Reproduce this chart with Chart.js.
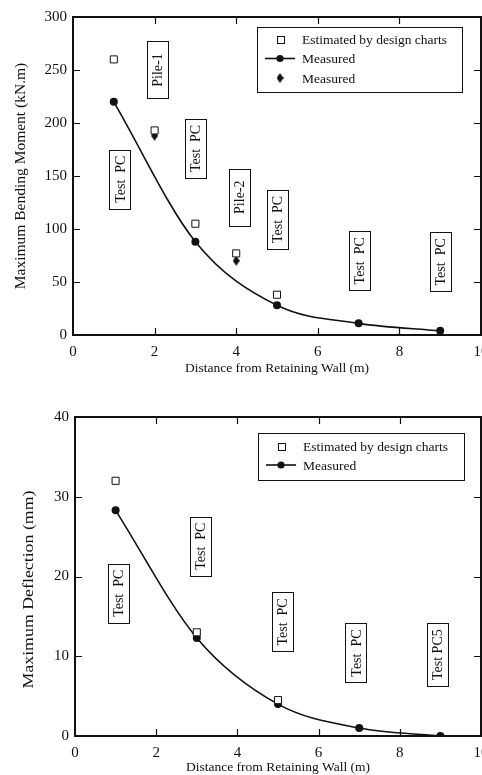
<!DOCTYPE html>
<html><head><meta charset="utf-8">
<script src="https://cdn.jsdelivr.net/npm/chart.js@4.4.1/dist/chart.umd.min.js"></script>
<style>
html,body{margin:0;padding:0;background:#fff;overflow:hidden;width:482px;height:775px}
#w1{position:absolute;left:0;top:0;width:482px;height:380px}
#w2{position:absolute;left:0;top:385px;width:482px;height:390px}
</style></head><body>
<div id="w1"><canvas id="c1"></canvas></div>
<div id="w2"><canvas id="c2"></canvas></div>
<script>
// ---- data ----
const xTicks = [0, 2, 4, 6, 8, 10];
const momentTicks = [0, 50, 100, 150, 200, 250, 300];
const deflTicks = [0, 10, 20, 30, 40];

const momentEstX = [1, 2, 3, 4, 5];
const momentEstY = [260, 193, 105, 77, 38];
const momentMeasX = [1, 3, 5, 7, 9];
const momentMeasY = [220, 88, 28, 11, 4];
const momentPileX = [2, 4];
const momentPileY = [188, 70];
const momentLabels = ['Pile-1', 'Test  PC', 'Test  PC', 'Pile-2', 'Test  PC', 'Test  PC', 'Test  PC'];
const momentLabelX = [2.06, 1.15, 3.0, 4.07, 5.02, 7.03, 9.0];
const momentLabelY = [250, 147, 176, 130, 109, 70, 69];

const deflEstX = [1, 3, 5];
const deflEstY = [32, 13, 4.5];
const deflMeasX = [1, 3, 5, 7, 9];
const deflMeasY = [28.3, 12.3, 4, 1, 0];
const deflLabels = ['Test  PC', 'Test  PC', 'Test  PC', 'Test  PC', 'Test PC5'];
const deflLabelX = [1.06, 3.08, 5.1, 6.92, 8.92];
const deflLabelY = [17.9, 23.8, 14.3, 10.4, 10.2];

const xTitle = 'Distance from Retaining Wall (m)';
const momentTitle = 'Maximum Bending Moment (kN.m)';
const deflTitle = 'Maximum Deflection (mm)';
const legendEst = 'Estimated by design charts';
const legendMeas = 'Measured';

// ---- helpers ----
const SERIF = "'Liberation Serif','Times New Roman',serif";
const INK = '#111';
function pts(xs, ys) { return xs.map((x, i) => ({x: x, y: ys[i]})); }
function diamondImg() {
  const c = document.createElement('canvas'); c.width = 7; c.height = 10;
  const g = c.getContext('2d'); g.fillStyle = INK; g.beginPath();
  g.moveTo(3.5, 0); g.lineTo(7, 5); g.lineTo(3.5, 10); g.lineTo(0, 5); g.closePath(); g.fill();
  return c;
}
const DIAMOND = diamondImg();

function decorPlugin(cfg) {
  return {
    id: 'decor',
    afterDatasetsDraw(chart) {
      const ctx = chart.ctx, a = chart.chartArea;
      const xs = chart.scales.x, ys = chart.scales.y;
      ctx.save();
      ctx.strokeStyle = INK; ctx.fillStyle = INK;
      // frame
      ctx.lineWidth = 2;
      ctx.strokeRect(a.left, a.top, a.right - a.left, a.bottom - a.top);
      // inward ticks
      ctx.lineWidth = 1.2;
      ctx.beginPath();
      cfg.xt.forEach(v => {
        if (v <= xs.min || v >= xs.max) return;
        const p = Math.round(xs.getPixelForValue(v)) + 0.5;
        ctx.moveTo(p, a.bottom); ctx.lineTo(p, a.bottom - 7);
        ctx.moveTo(p, a.top); ctx.lineTo(p, a.top + 7);
      });
      cfg.yt.forEach(v => {
        if (v <= ys.min || v >= ys.max) return;
        const p = Math.round(ys.getPixelForValue(v)) + 0.5;
        ctx.moveTo(a.left, p); ctx.lineTo(a.left + 7, p);
        ctx.moveTo(a.right, p); ctx.lineTo(a.right - 7, p);
      });
      ctx.stroke();
      // y-axis title
      ctx.save();
      ctx.font = cfg.yTitle.size + 'px ' + SERIF;
      ctx.textAlign = 'center'; ctx.textBaseline = 'middle';
      ctx.translate(cfg.yTitle.x, (a.top + a.bottom) / 2 + cfg.yTitle.dy);
      ctx.rotate(-Math.PI / 2);
      ctx.scale(cfg.yTitle.stretch, 1);
      ctx.fillStyle = INK; ctx.fillText(cfg.yTitle.text, 0, 0);
      ctx.restore();
      // boxed rotated labels
      ctx.font = '14px ' + SERIF;
      ctx.textAlign = 'center'; ctx.textBaseline = 'middle';
      ctx.lineWidth = 1;
      cfg.labels.forEach((t, i) => {
        const px = xs.getPixelForValue(cfg.lx[i]);
        const py = ys.getPixelForValue(cfg.ly[i]);
        const w = ctx.measureText(t).width;
        const bh = Math.max(w + 12, 57), bw = 21;
        ctx.fillStyle = '#fff';
        ctx.fillRect(px - bw / 2, py - bh / 2, bw, bh);
        ctx.strokeRect(Math.round(px - bw / 2) + 0.5, Math.round(py - bh / 2) + 0.5, bw, Math.round(bh));
        ctx.save(); ctx.translate(px, py); ctx.rotate(-Math.PI / 2);
        ctx.fillStyle = INK; ctx.fillText(t, 0, 1);
        ctx.restore();
      });
      // legend
      const L = cfg.legend;
      const bx = a.right - L.right - L.w, by = a.top + L.top;
      ctx.lineWidth = 1;
      ctx.fillStyle = '#fff';
      ctx.fillRect(bx, by, L.w, L.h);
      ctx.strokeRect(Math.round(bx) + 0.5, Math.round(by) + 0.5, L.w, L.h);
      ctx.font = '13.5px ' + SERIF; ctx.textAlign = 'left'; ctx.textBaseline = 'middle';
      L.items.forEach((it, i) => {
        const cy = by + L.first + i * L.gap, sx = bx + 23;
        ctx.fillStyle = INK; ctx.strokeStyle = INK;
        if (it.kind === 'square') {
          ctx.lineWidth = 1;
          ctx.strokeRect(Math.round(sx - 3.5) + 0.5, Math.round(cy - 3.5) + 0.5, 7, 7);
        } else if (it.kind === 'line') {
          ctx.lineWidth = 1.6;
          ctx.beginPath(); ctx.moveTo(sx - 15, cy); ctx.lineTo(sx + 15, cy); ctx.stroke();
          ctx.beginPath(); ctx.arc(sx, cy, 3.6, 0, Math.PI * 2); ctx.fill();
        } else {
          ctx.drawImage(DIAMOND, sx - 3.5, cy - 5);
        }
        ctx.fillStyle = INK;
        ctx.fillText(it.text, bx + 45, cy + 1);
      });
      ctx.restore();
    }
  };
}

function makeChart(id, o) {
  return new Chart(document.getElementById(id), {
    type: 'scatter',
    data: {
      datasets: o.datasets
    },
    options: {
      responsive: true, maintainAspectRatio: false, animation: false,
      events: [],
      layout: {autoPadding: false, padding: {top: o.padTop, right: 1, left: 0, bottom: 0}},
      plugins: {legend: {display: false}, tooltip: {enabled: false}},
      scales: {
        x: {
          type: 'linear', min: 0, max: 10,
          afterBuildTicks: s => { s.ticks = xTicks.map(v => ({value: v})); },
          afterFit: s => { s.height = o.xH; s.paddingLeft = 0; s.paddingRight = 0; },
          grid: {display: false, drawTicks: false},
          border: {display: false},
          ticks: {color: INK, font: {family: SERIF, size: 15}, padding: 8, maxRotation: 0, autoSkip: false},
          title: {display: true, text: xTitle, color: INK,
                  font: {family: SERIF, size: 13.5}, padding: {top: 0, bottom: o.xTitlePad}}
        },
        y: {
          type: 'linear', min: 0, max: o.yMax,
          afterBuildTicks: s => { s.ticks = o.yTicks.map(v => ({value: v})); },
          afterFit: s => { s.width = o.yW; s.paddingTop = 0; s.paddingBottom = 0; },
          grid: {display: false, drawTicks: false},
          border: {display: false},
          ticks: {color: INK, font: {family: SERIF, size: 15}, padding: 6, autoSkip: false},
          title: {display: false}
        }
      }
    },
    plugins: [decorPlugin(o.decor)]
  });
}

makeChart('c1', {
  padTop: 17, xH: 45, yW: 73, yMax: 300, yTicks: momentTicks, xTitlePad: 3,
  datasets: [
    {label: legendEst, data: pts(momentEstX, momentEstY), pointStyle: 'rect', pointRadius: 5,
     backgroundColor: '#fff', borderColor: INK, borderWidth: 1, showLine: false},
    {label: legendMeas, data: pts(momentMeasX, momentMeasY), pointStyle: 'circle', pointRadius: 4,
     backgroundColor: INK, borderColor: INK, borderWidth: 1.6, showLine: true,
     cubicInterpolationMode: 'monotone', pointBorderWidth: 0},
    {label: legendMeas, data: pts(momentPileX, momentPileY), pointStyle: DIAMOND,
     backgroundColor: INK, borderColor: INK, showLine: false}
  ],
  decor: {
    xt: xTicks, yt: momentTicks, labels: momentLabels, lx: momentLabelX, ly: momentLabelY,
    yTitle: {text: momentTitle, size: 15.5, x: 21, dy: 0, stretch: 1},
    legend: {right: 19, top: 10, w: 205, h: 65, first: 12, gap: 19.5,
      items: [{kind: 'square', text: legendEst}, {kind: 'line', text: legendMeas}, {kind: 'diamond', text: legendMeas}]}
  }
});

makeChart('c2', {
  padTop: 32, xH: 39, yW: 75, yMax: 40, yTicks: deflTicks, xTitlePad: -1,
  datasets: [
    {label: legendEst, data: pts(deflEstX, deflEstY), pointStyle: 'rect', pointRadius: 5,
     backgroundColor: '#fff', borderColor: INK, borderWidth: 1, showLine: false},
    {label: legendMeas, data: pts(deflMeasX, deflMeasY), pointStyle: 'circle', pointRadius: 4,
     backgroundColor: INK, borderColor: INK, borderWidth: 1.6, showLine: true,
     cubicInterpolationMode: 'monotone', pointBorderWidth: 0}
  ],
  decor: {
    xt: xTicks, yt: deflTicks, labels: deflLabels, lx: deflLabelX, ly: deflLabelY,
    yTitle: {text: deflTitle, size: 15.5, x: 29, dy: 13, stretch: 1.15},
    legend: {right: 17, top: 16, w: 206, h: 47, first: 13, gap: 19,
      items: [{kind: 'square', text: legendEst}, {kind: 'line', text: legendMeas}]}
  }
});
</script>
</body></html>
